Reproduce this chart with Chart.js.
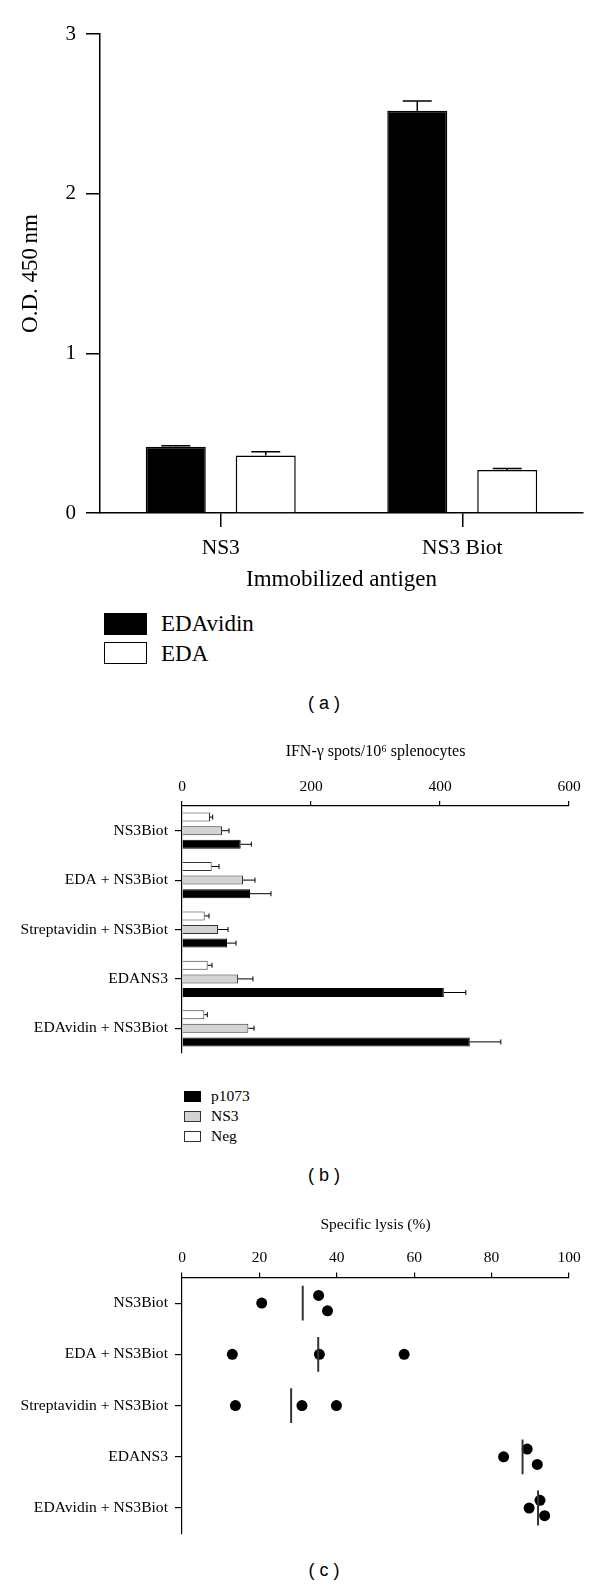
<!DOCTYPE html>
<html>
<head>
<meta charset="utf-8">
<script src="https://cdn.jsdelivr.net/npm/chart.js@4.4.1/dist/chart.umd.min.js"></script>
<style>
    body { margin: 0; background: #fff; width: 600px; height: 1586px; position: relative; overflow: hidden; }
    canvas { position: absolute; left: 0; }
    .txt { position: absolute; white-space: nowrap; font-family: "Liberation Serif", "Times New Roman", serif; color: #000; }
    .swatch { position: absolute; box-sizing: border-box; }
    .panel { position: absolute; left: 274px; width: 100px; text-align: center; font-family: "Liberation Sans", Arial, sans-serif; font-size: 18px; line-height: 20px; }
</style>
</head>
<body>
<canvas id="chartA" width="600" height="600" style="top:0px"></canvas>
<canvas id="chartB" width="600" height="340" style="top:730px"></canvas>
<canvas id="chartC" width="600" height="360" style="top:1190px"></canvas>

<!-- legend (a) -->
<div class="swatch" style="left:104px;top:613px;width:43px;height:22px;background:#000"></div>
<div class="swatch" style="left:104px;top:642px;width:43px;height:22px;background:#fff;border:1.5px solid #000"></div>
<div class="txt" style="left:161px;top:610px;font-size:23px;line-height:28px">EDAvidin</div>
<div class="txt" style="left:161px;top:640px;font-size:23px;line-height:28px">EDA</div>
<div class="panel" style="top:693px">( a )</div>

<!-- legend (b) -->
<div class="swatch" style="left:184px;top:1091px;width:17px;height:11px;background:#000;border:1px solid #000"></div>
<div class="swatch" style="left:184px;top:1111px;width:17px;height:11px;background:#d3d3d3;border:1px solid #333"></div>
<div class="swatch" style="left:184px;top:1131px;width:17px;height:11px;background:#fff;border:1px solid #333"></div>
<div class="txt" style="left:211px;top:1087px;font-size:15.5px;line-height:18px">p1073</div>
<div class="txt" style="left:211px;top:1107px;font-size:15.5px;line-height:18px">NS3</div>
<div class="txt" style="left:211px;top:1127px;font-size:15.5px;line-height:18px">Neg</div>
<div class="panel" style="top:1165px">( b )</div>

<div class="panel" style="top:1560px">( c )</div>

<script>
// (a) O.D. 450 nm per immobilized antigen
const odCategories = ["NS3", "NS3 Biot"]
const odEDAvidin = [0.415, 2.52]
const odEDAvidinErr = [0.006, 0.06]
const odEDA = [0.36, 0.27]
const odEDAErr = [0.024, 0.008]
const odTicks = [0, 1, 2, 3]

// (b) IFN-gamma spots / 10^6 splenocytes
const spotCategories = ["NS3Biot", "EDA + NS3Biot", "Streptavidin + NS3Biot", "EDANS3", "EDAvidin + NS3Biot"]
const spotNeg = [43.4, 46, 35.2, 39.8, 34.6]
const spotNegErr = [4.2, 11.4, 6.7, 6.7, 4.7]
const spotNS3 = [62, 94.6, 55.8, 86.9, 102.9]
const spotNS3Err = [10.9, 18.6, 15.6, 23.1, 8.8]
const spotP1073 = [91, 105.5, 69.8, 405.9, 446.2]
const spotP1073Err = [16.5, 32.5, 14, 34.1, 48.1]
const spotTicks = [0, 200, 400, 600]

// (c) specific lysis (%), three mice per group
const lysisCategories = ["NS3Biot", "EDA + NS3Biot", "Streptavidin + NS3Biot", "EDANS3", "EDAvidin + NS3Biot"]
const lysisValues = [
    [20.6, 35.3, 37.6],
    [13.0, 35.5, 57.4],
    [13.8, 31.0, 39.9],
    [83.1, 89.2, 91.8],
    [89.7, 92.5, 93.7],
]
// -1 above the row, 0 on it, 1 below
const lysisLanes = [
    [0, -1, 1],
    [0, 0, 0],
    [0, 0, 0],
    [0, -1, 1],
    [0, -1, 1],
]
const lysisMeans = [31.2, 35.2, 28.2, 88.0, 92.0]
const lysisTicks = [0, 20, 40, 60, 80, 100]

const LANE_STEP = 0.15
const MEAN_HALF = 0.34

Chart.defaults.font.family = "'Liberation Serif', 'Times New Roman', serif"
Chart.defaults.color = "#000"

const errorBars = {
    id: "errorBars",
    afterDatasetsDraw(chart) {
        const ctx = chart.ctx
        const horizontal = chart.options.indexAxis === "y"
        const valueScale = horizontal ? chart.scales.x : chart.scales.y
        chart.data.datasets.forEach((ds, i) => {
            if (!ds.errors) return
            const cap = ds.errorCap
            ctx.save()
            ctx.strokeStyle = "#000"
            ctx.lineWidth = ds.errorWidth
            chart.getDatasetMeta(i).data.forEach((bar, j) => {
                const end = valueScale.getPixelForValue(ds.data[j] + ds.errors[j])
                ctx.beginPath()
                if (horizontal) {
                    ctx.moveTo(bar.x, bar.y)
                    ctx.lineTo(end, bar.y)
                    ctx.moveTo(end, bar.y - cap)
                    ctx.lineTo(end, bar.y + cap)
                } else {
                    ctx.moveTo(bar.x, bar.y)
                    ctx.lineTo(bar.x, end)
                    ctx.moveTo(bar.x - cap, end)
                    ctx.lineTo(bar.x + cap, end)
                }
                ctx.stroke()
            })
            ctx.restore()
        })
    },
}

const ticksFrom = (values) => (scale) => {
    scale.ticks = values.map((v) => ({ value: v }))
}

// ---------- (a)
new Chart(document.getElementById("chartA"), {
    type: "bar",
    data: {
        labels: odCategories,
        datasets: [
            {
                label: "EDAvidin",
                data: odEDAvidin,
                errors: odEDAvidinErr,
                backgroundColor: "#000",
                borderColor: "#000",
                borderWidth: 1.5,
                errorCap: 14.5,
                errorWidth: 1.5,
            },
            {
                label: "EDA",
                data: odEDA,
                errors: odEDAErr,
                backgroundColor: "#fff",
                borderColor: "#000",
                borderWidth: 1.5,
                errorCap: 14.5,
                errorWidth: 1.5,
            },
        ],
    },
    options: {
        responsive: false,
        animation: false,
        datasets: { bar: { categoryPercentage: 0.745, barPercentage: 0.667 } },
        layout: { padding: { left: 0, right: 17, top: 34, bottom: 6 } },
        plugins: { legend: { display: false }, tooltip: { enabled: false } },
        scales: {
            x: {
                grid: { offset: false, drawOnChartArea: false, tickLength: 14, color: "#000", lineWidth: 1.5 },
                border: { color: "#000", width: 1.5 },
                ticks: { font: { size: 21.5 }, padding: 8 },
                title: { display: true, text: "Immobilized antigen", font: { size: 23 }, padding: { top: 0, bottom: 0 } },
                afterFit: (s) => { s.height = 81 },
            },
            y: {
                min: 0,
                max: 3,
                afterBuildTicks: ticksFrom(odTicks),
                grid: { drawOnChartArea: false, tickLength: 14, color: "#000", lineWidth: 1.5 },
                border: { color: "#000", width: 1.5 },
                ticks: { font: { size: 21 }, padding: 10 },
                title: { display: true, text: "O.D. 450\u2009nm", font: { size: 23 }, padding: { top: 17.2, bottom: 0 } },
                afterFit: (s) => { s.width = 100 },
            },
        },
    },
    plugins: [errorBars],
})

// ---------- (b)
new Chart(document.getElementById("chartB"), {
    type: "bar",
    data: {
        labels: spotCategories,
        datasets: [
            { label: "Neg", data: spotNeg, errors: spotNegErr, backgroundColor: "#fff", borderColor: "#333", borderWidth: 1, errorCap: 2.5, errorWidth: 1 },
            { label: "NS3", data: spotNS3, errors: spotNS3Err, backgroundColor: "#d3d3d3", borderColor: "#333", borderWidth: 1, errorCap: 2.5, errorWidth: 1 },
            { label: "p1073", data: spotP1073, errors: spotP1073Err, backgroundColor: "#000", borderColor: "#000", borderWidth: 1, errorCap: 2.5, errorWidth: 1 },
        ],
    },
    options: {
        indexAxis: "y",
        responsive: false,
        animation: false,
        datasets: { bar: { categoryPercentage: 0.826, barPercentage: 0.66 } },
        layout: { padding: { left: 0, right: 31, top: 0, bottom: 17 } },
        plugins: { legend: { display: false }, tooltip: { enabled: false } },
        scales: {
            x: {
                position: "top",
                min: 0,
                max: 600,
                afterBuildTicks: ticksFrom(spotTicks),
                grid: { drawOnChartArea: false, tickLength: 5, color: "#000", lineWidth: 1.2 },
                border: { color: "#000", width: 1.2 },
                ticks: { font: { size: 15.5 }, padding: 5 },
                title: { display: true, text: "IFN-\u03b3 spots/10\u2076 splenocytes", font: { size: 16 }, padding: { top: 12.5, bottom: 0 } },
                afterFit: (s) => { s.height = 76 },
            },
            y: {
                grid: { offset: false, drawOnChartArea: false, tickLength: 7, color: "#000", lineWidth: 1.2 },
                border: { color: "#000", width: 1.2 },
                ticks: { font: { size: 15.6 }, padding: 7 },
                afterFit: (s) => { s.width = 182 },
            },
        },
    },
    plugins: [errorBars],
})

// ---------- (c)
const dots = []
lysisValues.forEach((row, i) => {
    row.forEach((v, k) => dots.push({ x: v, y: i + lysisLanes[i][k] * LANE_STEP }))
})
const meanLines = lysisMeans.map((m, i) => ({
    data: [{ x: m, y: i - MEAN_HALF }, { x: m, y: i + MEAN_HALF }],
    showLine: true,
    pointRadius: 0,
    borderColor: "#333",
    borderWidth: 2,
}))

new Chart(document.getElementById("chartC"), {
    type: "scatter",
    data: {
        datasets: [
            ...meanLines,
            { data: dots, pointRadius: 5.5, pointBackgroundColor: "#000", pointBorderColor: "#000", pointBorderWidth: 0, clip: false },
        ],
    },
    options: {
        responsive: false,
        animation: false,
        layout: { padding: { left: 0, right: 31, top: 0, bottom: 15 } },
        plugins: { legend: { display: false }, tooltip: { enabled: false } },
        scales: {
            x: {
                position: "top",
                min: 0,
                max: 100,
                afterBuildTicks: ticksFrom(lysisTicks),
                grid: { drawOnChartArea: false, tickLength: 5, color: "#000", lineWidth: 1.2 },
                border: { color: "#000", width: 1.2 },
                ticks: { font: { size: 15.5 }, padding: 5.5 },
                title: { display: true, text: "Specific lysis (%)", font: { size: 15.5 }, padding: { top: 26, bottom: 0 } },
                afterFit: (s) => { s.height = 87.5 },
            },
            y: {
                min: -0.5,
                max: 4.5,
                reverse: true,
                afterBuildTicks: ticksFrom(lysisCategories.map((c, i) => i)),
                grid: { drawOnChartArea: false, tickLength: 7, color: "#000", lineWidth: 1.2 },
                border: { color: "#000", width: 1.2 },
                ticks: { font: { size: 15.6 }, padding: 7, callback: (v) => lysisCategories[v] },
                afterFit: (s) => { s.width = 182 },
            },
        },
    },
})
</script>
</body>
</html>
